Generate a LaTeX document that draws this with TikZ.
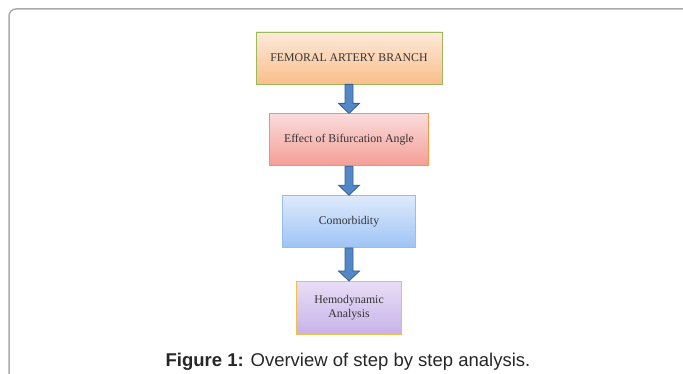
\documentclass[tikz,border=0pt]{standalone}
\usepackage{fontspec}
\setmainfont{Liberation Serif}
\newfontfamily\capfont{Liberation Sans}
\usetikzlibrary{positioning, calc}

\definecolor{framegray}{RGB}{170,170,170}
\definecolor{arrowfill}{RGB}{84,135,197}
\definecolor{arrowedge}{RGB}{52,96,148}

% block arrow from the bottom of one box to the top of the next
\newcommand{\flowarrow}[2]{%
  \filldraw[fill=arrowfill, draw=arrowedge, line width=0.8pt, line join=miter]
    ($(#1.south)+(-4,0)$) -- ($(#2.north)+(-4,-10)$) -- ($(#2.north)+(-10.5,-10)$)
    -- (#2.north) -- ($(#2.north)+(10.5,-10)$) -- ($(#2.north)+(4,-10)$)
    -- ($(#1.south)+(4,0)$) -- cycle;
}

\begin{document}
\begin{tikzpicture}[
    x=1pt, y=-1pt,
    stepbox/.style={rectangle, line width=0.8pt, minimum height=52pt, align=center,
        font=\fontsize{11.8}{14.5}\selectfont, text=black!80, inner sep=2pt}
]
    \useasboundingbox (0,0) rectangle (683,374);
    \clip (0,0) rectangle (683,374);
    \draw[framegray, line width=1.5pt, rounded corners=7pt] (9,400) -- (9,9) -- (700,9);

    \node[stepbox, minimum width=186pt, draw={rgb,255:red,155;green,187;blue,89},
        top color={rgb,255:red,253;green,234;blue,218}, bottom color={rgb,255:red,250;green,190;blue,140}]
        (femoral) at (349,58) {FEMORAL ARTERY BRANCH};
    \node[stepbox, minimum width=159pt, below=29pt of femoral, draw={rgb,255:red,247;green,150;blue,70},
        top color={rgb,255:red,250;green,220;blue,220}, bottom color={rgb,255:red,244;green,158;blue,150}]
        (angle) {Effect of Bifurcation Angle};
    \node[stepbox, minimum width=133pt, below=29pt of angle, draw={rgb,255:red,150;green,190;blue,235},
        top color={rgb,255:red,222;green,234;blue,252}, bottom color={rgb,255:red,158;green,196;blue,245}]
        (comorb) {Comorbidity};
    \node[stepbox, minimum width=105pt, minimum height=53pt, below=33pt of comorb,
        draw={rgb,255:red,242;green,192;blue,74},
        top color={rgb,255:red,232;green,222;blue,246}, bottom color={rgb,255:red,200;green,178;blue,234}]
        (hemo) {Hemodynamic\\Analysis};

    \flowarrow{femoral}{angle}
    \flowarrow{angle}{comorb}
    \flowarrow{comorb}{hemo}

    \node[font=\capfont\fontsize{18.5}{20}\selectfont, text=black!85, anchor=base] (caption) at (348,366)
        {\textbf{Figure 1:} Overview of step by step analysis.};
\end{tikzpicture}
\end{document}
